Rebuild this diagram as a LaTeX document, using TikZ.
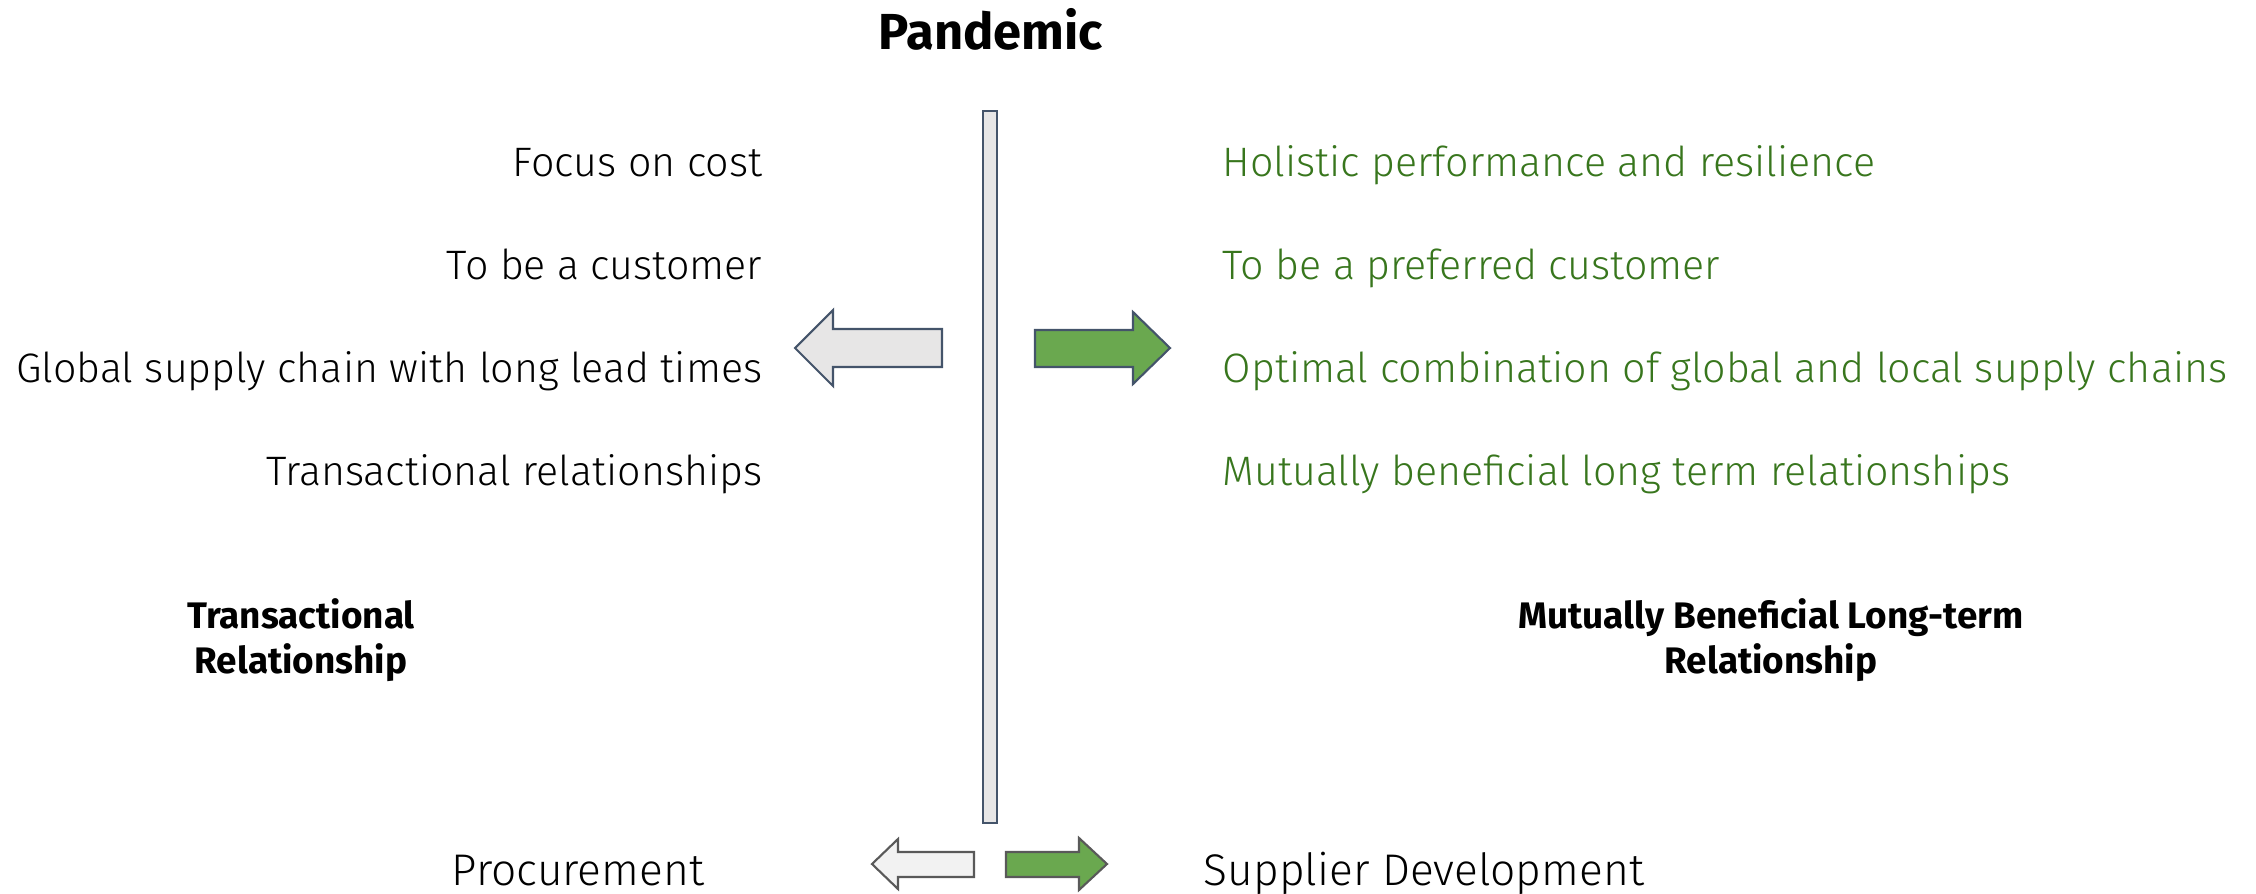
\documentclass[tikz,border=0pt]{standalone}
\usepackage{fontspec}
\setmainfont{Fira Sans}
\newfontfamily\lightfont{Fira Sans Light}
\definecolor{txtgreen}{HTML}{38761D}
\definecolor{arrgreen}{HTML}{6AA84F}
\definecolor{slate}{HTML}{44546A}
\definecolor{lgrey}{HTML}{E7E6E6}
\definecolor{vlgrey}{HTML}{F2F2F2}
\definecolor{dgrey}{HTML}{595959}
\tikzset{
  itemL/.style={anchor=base east, inner sep=0pt, font=\lightfont\fontsize{11.7}{14}\selectfont},
  itemR/.style={anchor=base west, inner sep=0pt, text=txtgreen, font=\lightfont\fontsize{11.7}{14}\selectfont},
  bottomtxt/.style={anchor=base, inner sep=0pt, font=\lightfont\fontsize{12.6}{15}\selectfont},
  heading/.style={anchor=base, inner sep=0pt, font=\bfseries\fontsize{14.4}{17}\selectfont},
  sidelabel/.style={align=center, inner sep=0pt, font=\bfseries\fontsize{10.5}{12.8}\selectfont},
  bigarrow/.style={draw=slate, line width=0.6pt, line join=miter},
}
\begin{document}
\begin{tikzpicture}[x=0.01cm, y=-0.01cm]
\useasboundingbox (0,0) rectangle (2256,893);
% heading
\node[heading] (pandemic) at (991,49) {Pandemic};
% vertical bar
\draw[bigarrow, fill=lgrey] (983,111) rectangle (997,823);
% left items
\node[itemL] (l1) at (763,176) {Focus on cost};
\node[itemL] (l2) at (763,279) {To be a customer};
\node[itemL] (l3) at (763,382) {Global supply chain with long lead times};
\node[itemL] (l4) at (763,485) {Transactional relationships};
% right items
\node[itemR] (r1) at (1222,176) {Holistic performance and resilience};
\node[itemR] (r2) at (1222,279) {To be a preferred customer};
\node[itemR] (r3) at (1222,382) {Optimal combination of global and local supply chains};
\node[itemR] (r4) at (1222,485) {Mutually beneficial long term relationships};
% big arrows
\draw[bigarrow, fill=lgrey] (942,329) -- (833,329) -- (833,310) -- (795,348) -- (833,386) -- (833,367) -- (942,367) -- cycle;
\draw[bigarrow, fill=arrgreen] (1035,330) -- (1133,330) -- (1133,312) -- (1170,348) -- (1133,384) -- (1133,367) -- (1035,367) -- cycle;
% side labels
\node[sidelabel] (tl) at (301,640) {Transactional\\Relationship};
\node[sidelabel] (ml) at (1771,640) {Mutually Beneficial Long-term\\Relationship};
% bottom
\node[bottomtxt] (proc) at (578,885) {Procurement};
\node[bottomtxt] (supp) at (1424,885) {Supplier Development};
\draw[draw=dgrey, line width=0.6pt, fill=vlgrey] (974,852) -- (898,852) -- (898,839) -- (872,864) -- (898,889) -- (898,877) -- (974,877) -- cycle;
\draw[draw=dgrey, line width=0.6pt, fill=arrgreen] (1006,852) -- (1079,852) -- (1079,838) -- (1107,864) -- (1079,890) -- (1079,877) -- (1006,877) -- cycle;
\end{tikzpicture}
\end{document}
